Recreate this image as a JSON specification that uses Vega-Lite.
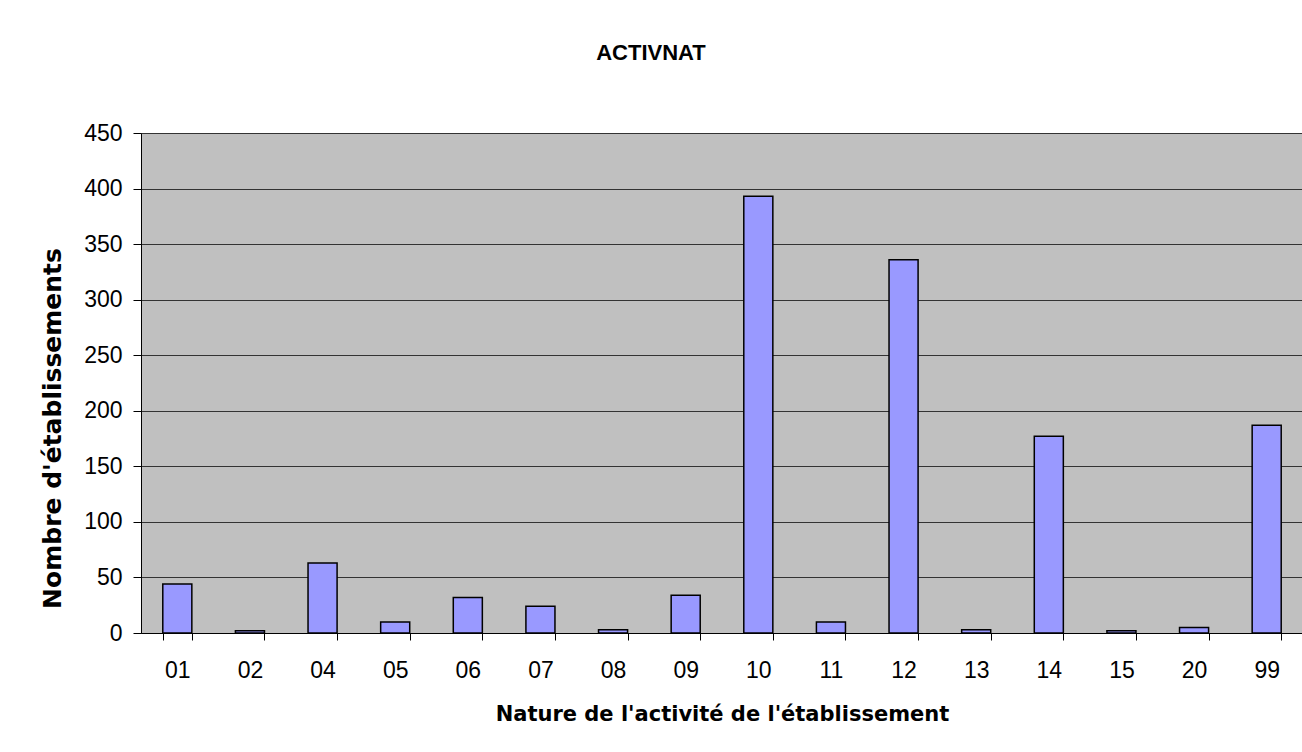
{
  "$schema": "https://vega.github.io/schema/vega-lite/v6.json",
  "autosize": {"type": "none"},
  "padding": {"left": 141, "top": 133, "right": 0, "bottom": 119},
  "width": 1162,
  "height": 500,
  "background": "white",
  "title": {
    "text": "ACTIVNAT",
    "font": "Liberation Sans",
    "fontSize": 22,
    "fontWeight": "bold",
    "color": "black",
    "anchor": "middle",
    "frame": "group",
    "dx": -71,
    "offset": 57
  },
  "data": {
    "values": [
      {"code": "01", "n": 44},
      {"code": "02", "n": 2},
      {"code": "04", "n": 63},
      {"code": "05", "n": 10},
      {"code": "06", "n": 32},
      {"code": "07", "n": 24},
      {"code": "08", "n": 3},
      {"code": "09", "n": 34},
      {"code": "10", "n": 393},
      {"code": "11", "n": 10},
      {"code": "12", "n": 336},
      {"code": "13", "n": 3},
      {"code": "14", "n": 177},
      {"code": "15", "n": 2},
      {"code": "20", "n": 5},
      {"code": "99", "n": 187}
    ]
  },
  "mark": {"type": "bar", "color": "#9999FF", "stroke": "black", "strokeWidth": 1.5},
  "encoding": {
    "x": {
      "field": "code",
      "type": "nominal",
      "sort": null,
      "scale": {"paddingInner": 0.6, "paddingOuter": 0.3},
      "axis": {
        "title": "Nature de l'activité de l'établissement",
        "titleFont": "DejaVu Sans",
        "titleFontSize": 21,
        "labelAngle": 0,
        "tickBand": "extent",
        "tickSize": 7,
        "tickColor": "black",
        "domainColor": "black",
        "labelPadding": 19,
        "titlePadding": 21,
        "grid": false
      }
    },
    "y": {
      "field": "n",
      "type": "quantitative",
      "scale": {"domain": [0, 450], "nice": false},
      "axis": {
        "title": "Nombre d'établissements",
        "titleFont": "DejaVu Sans",
        "titleFontSize": 25,
        "titleY": 295,
        "values": [0, 50, 100, 150, 200, 250, 300, 350, 400, 450],
        "tickSize": 8,
        "tickColor": "black",
        "domainColor": "black",
        "labelPadding": 11,
        "titlePadding": 18,
        "grid": true,
        "gridColor": "#333333",
        "gridWidth": 1
      }
    }
  },
  "config": {
    "view": {"fill": "#C0C0C0", "stroke": "#808080", "strokeWidth": 1},
    "axis": {
      "labelFont": "Liberation Sans",
      "labelFontSize": 23,
      "labelColor": "black",
      "titleFontWeight": "bold",
      "titleColor": "black",
      "domainWidth": 1,
      "tickWidth": 1
    }
  }
}
